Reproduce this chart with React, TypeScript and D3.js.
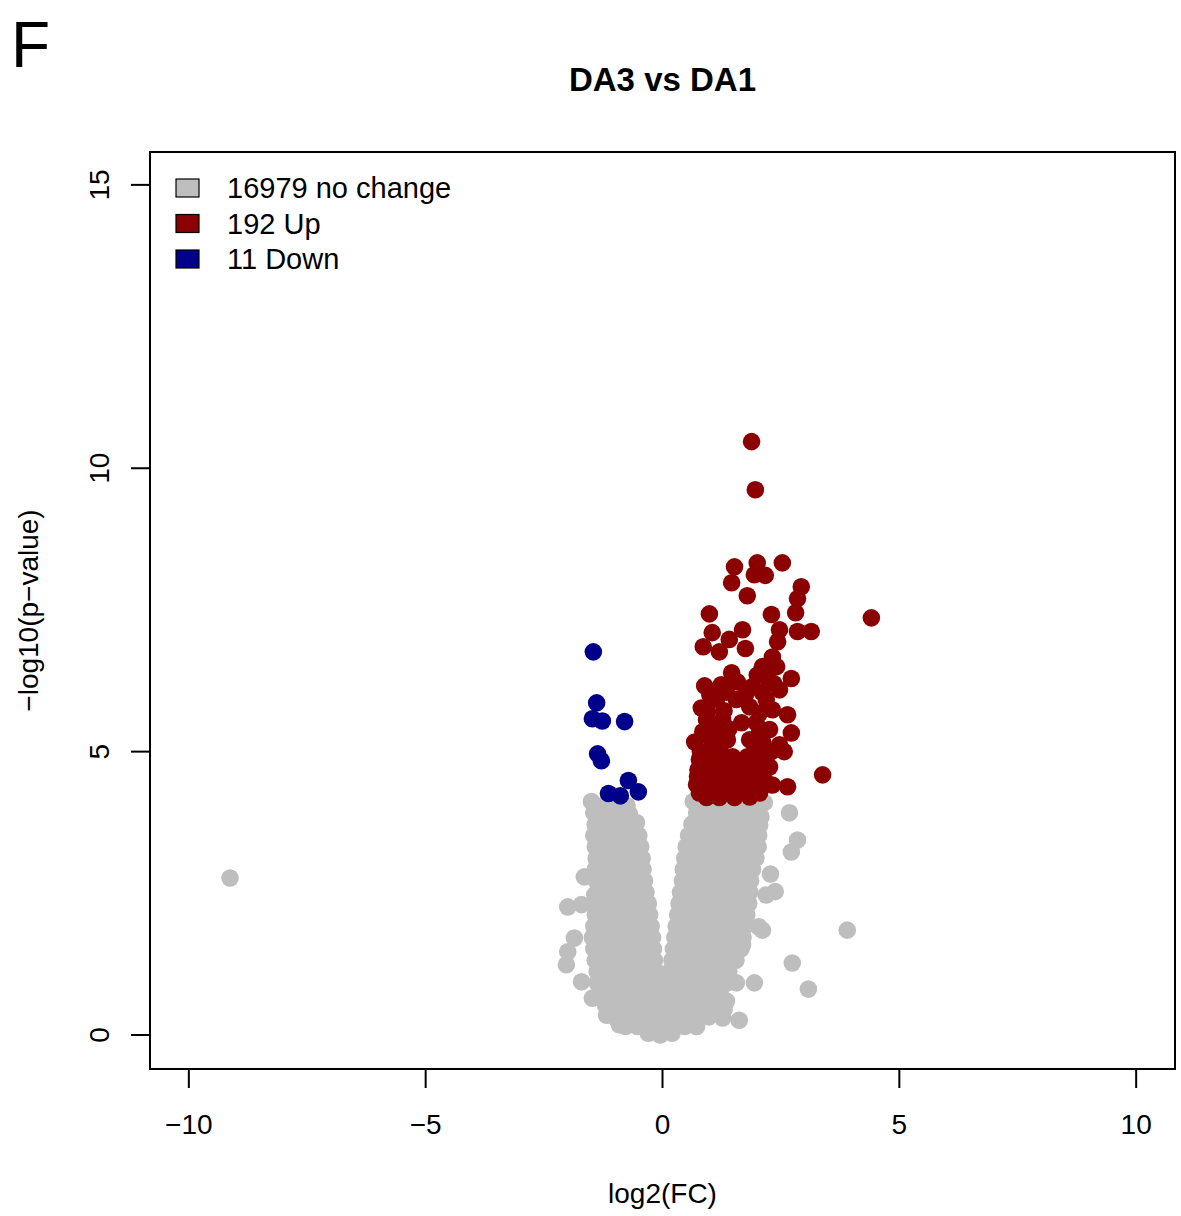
import React from 'react';
import { scaleLinear } from 'd3';

// labels
const panelLabel = 'F';
const title = 'DA3 vs DA1';
const xLabel = 'log2(FC)';
const yLabel = '\u2212log10(p\u2212value)';
const xTicks = [-10, -5, 0, 5, 10];
const yTicks = [0, 5, 10, 15];

const legendLabels = ['16979 no change', '192 Up', '11 Down'];
const legendColors = ['#BEBEBE', '#8B0000', '#00008B'];

// [log2FC, -log10(p)]
const noChange: [number, number][] = [
	[-1.5, 4.12], [-1.25, 4.05], [-1.0, 4.08], [-0.75, 4.05],
	[0.65, 4.12], [0.9, 4.12], [1.15, 4.12], [1.4, 4.12], [1.65, 4.12], [1.9, 4.12], [2.15, 4.1],
	[-1.45, 3.92], [-1.2, 3.92], [-0.95, 3.92], [-0.7, 3.9],
	[0.72, 3.92], [0.97, 3.92], [1.22, 3.92], [1.47, 3.92], [1.72, 3.92], [1.97, 3.92], [2.08, 3.85],
	[-1.42, 3.72], [-1.17, 3.72], [-0.92, 3.72], [-0.67, 3.72], [-0.55, 3.75],
	[0.62, 3.72], [0.87, 3.72], [1.12, 3.72], [1.37, 3.72], [1.62, 3.72], [1.87, 3.72], [2.05, 3.7],
	[-1.45, 3.52], [-1.2, 3.52], [-0.95, 3.52], [-0.7, 3.52], [-0.5, 3.52],
	[0.55, 3.52], [0.8, 3.52], [1.05, 3.52], [1.3, 3.52], [1.55, 3.52], [1.8, 3.52], [2.03, 3.52],
	[-1.42, 3.32], [-1.17, 3.32], [-0.92, 3.32], [-0.67, 3.32], [-0.46, 3.32],
	[0.5, 3.32], [0.75, 3.32], [1.0, 3.32], [1.25, 3.32], [1.5, 3.32], [1.75, 3.32], [2.02, 3.32],
	[-1.4, 3.12], [-1.15, 3.12], [-0.9, 3.12], [-0.65, 3.12], [-0.43, 3.12],
	[0.47, 3.12], [0.72, 3.12], [0.97, 3.12], [1.22, 3.12], [1.47, 3.12], [1.72, 3.12], [1.97, 3.12],
	[-1.42, 2.92], [-1.17, 2.92], [-0.92, 2.92], [-0.67, 2.92], [-0.41, 2.92],
	[0.44, 2.92], [0.68, 2.92], [0.92, 2.92], [1.16, 2.92], [1.4, 2.92], [1.64, 2.92], [1.9, 2.92],
	[-1.4, 2.72], [-1.15, 2.72], [-0.9, 2.72], [-0.65, 2.72], [-0.38, 2.72],
	[0.42, 2.72], [0.66, 2.72], [0.9, 2.72], [1.14, 2.72], [1.38, 2.72], [1.62, 2.72], [1.86, 2.72],
	[-1.38, 2.52], [-1.13, 2.52], [-0.88, 2.52], [-0.63, 2.52], [-0.35, 2.52],
	[0.38, 2.52], [0.62, 2.52], [0.86, 2.52], [1.1, 2.52], [1.34, 2.52], [1.58, 2.52], [1.84, 2.52],
	[-1.4, 2.32], [-1.15, 2.32], [-0.9, 2.32], [-0.65, 2.32], [-0.47, 2.35], [-0.3, 2.32],
	[0.35, 2.32], [0.6, 2.32], [0.85, 2.32], [1.1, 2.32], [1.35, 2.32], [1.6, 2.32], [1.82, 2.32],
	[-1.42, 2.12], [-1.17, 2.12], [-0.92, 2.12], [-0.67, 2.12], [-0.45, 2.12], [-0.27, 2.12],
	[0.32, 2.12], [0.56, 2.12], [0.8, 2.12], [1.04, 2.12], [1.28, 2.12], [1.52, 2.12], [1.78, 2.12],
	[-1.45, 1.92], [-1.2, 1.92], [-0.95, 1.92], [-0.7, 1.92], [-0.45, 1.92], [-0.24, 1.92],
	[0.29, 1.92], [0.53, 1.92], [0.77, 1.92], [1.01, 1.92], [1.25, 1.92], [1.5, 1.92], [1.74, 1.92],
	[-1.48, 1.72], [-1.23, 1.72], [-0.98, 1.72], [-0.73, 1.72], [-0.48, 1.72], [-0.21, 1.72],
	[0.26, 1.72], [0.5, 1.72], [0.74, 1.72], [0.98, 1.72], [1.22, 1.72], [1.46, 1.72], [1.7, 1.72],
	[-1.45, 1.52], [-1.2, 1.52], [-0.95, 1.52], [-0.7, 1.52], [-0.45, 1.52], [-0.19, 1.52],
	[0.23, 1.52], [0.47, 1.52], [0.71, 1.52], [0.95, 1.52], [1.2, 1.52], [1.45, 1.52], [1.66, 1.52],
	[-1.42, 1.32], [-1.17, 1.32], [-0.92, 1.32], [-0.67, 1.32], [-0.42, 1.32], [-0.17, 1.32],
	[0.2, 1.32], [0.44, 1.32], [0.68, 1.32], [0.92, 1.32], [1.16, 1.32], [1.4, 1.32], [1.55, 1.32],
	[-1.38, 1.12], [-1.13, 1.12], [-0.88, 1.12], [-0.63, 1.12], [-0.38, 1.12], [-0.14, 1.12],
	[0.16, 1.12], [0.4, 1.12], [0.65, 1.12], [0.9, 1.12], [1.15, 1.12], [1.4, 1.12],
	[-1.38, 0.92], [-1.13, 0.92], [-0.88, 0.92], [-0.63, 0.92], [-0.38, 0.92], [-0.13, 0.92],
	[0.12, 0.92], [0.37, 0.92], [0.62, 0.92], [0.87, 0.92], [1.12, 0.92], [1.37, 0.92],
	[-1.28, 0.72], [-1.03, 0.72], [-0.78, 0.72], [-0.53, 0.72], [-0.28, 0.72], [-0.03, 0.72],
	[0.22, 0.72], [0.47, 0.72], [0.72, 0.72], [0.97, 0.72], [1.22, 0.72], [1.35, 0.6],
	[-1.2, 0.52], [-0.95, 0.52], [-0.7, 0.52], [-0.45, 0.52], [-0.2, 0.52], [0.05, 0.52],
	[0.3, 0.52], [0.55, 0.52], [0.8, 0.52], [1.05, 0.52], [1.3, 0.45],
	[-1.02, 0.32], [-0.77, 0.32], [-0.52, 0.32], [-0.27, 0.32], [-0.02, 0.32],
	[0.23, 0.32], [0.48, 0.32], [0.73, 0.32], [0.98, 0.32],
	[-0.78, 0.15], [-0.53, 0.15], [-0.28, 0.15], [-0.03, 0.15], [0.22, 0.15], [0.47, 0.15], [0.72, 0.15],
	[-0.3, 0.03], [-0.05, 0.0], [0.2, 0.03],
	// scattered ones
	[-9.13, 2.77], [3.9, 1.85], [2.74, 1.27], [3.08, 0.81],
	[2.68, 3.92], [2.85, 3.44], [2.72, 3.23], [2.28, 2.84], [2.38, 2.53], [2.19, 2.47],
	[2.03, 1.91], [2.11, 1.85], [1.69, 1.59], [1.94, 0.92], [1.56, 0.92], [1.62, 0.26], [1.27, 0.3],
	[-1.65, 2.79], [-2.0, 2.26], [-1.71, 2.3], [-1.43, 2.47], [-1.22, 2.53], [-1.86, 1.71],
	[-2.0, 1.47], [-2.03, 1.24], [-1.71, 0.94], [-1.48, 0.65], [-1.18, 0.35], [-0.91, 0.18],
];

const upRegulated: [number, number][] = [
	[1.88, 10.47], [1.96, 9.62], [1.52, 8.26], [2.0, 8.33], [2.53, 8.33], [1.46, 7.98],
	[1.94, 8.12], [2.17, 8.11], [1.79, 7.75], [2.93, 7.91], [2.85, 7.7], [0.99, 7.43],
	[2.3, 7.42], [2.81, 7.45], [4.41, 7.36], [2.47, 7.15], [2.85, 7.12], [3.14, 7.12],
	[1.05, 7.1], [1.69, 7.15], [0.86, 6.85], [1.2, 6.76], [1.41, 6.98], [1.75, 6.82],
	[2.43, 6.94], [2.32, 6.67], [2.11, 6.5], [2.41, 6.5], [1.46, 6.39], [2.72, 6.29],
	[0.89, 6.16], [1.24, 6.18], [1.58, 6.23], [1.9, 6.15], [2.26, 6.22], [2.47, 6.09],
	[0.82, 5.77], [1.14, 5.92], [1.56, 5.92], [1.84, 5.79], [2.19, 5.92], [2.32, 5.74],
	[2.64, 5.65], [0.93, 5.56], [1.27, 5.56], [1.67, 5.51], [1.98, 5.51], [2.26, 5.39],
	[2.72, 5.33], [0.68, 5.17], [1.03, 5.21], [1.37, 5.21], [1.84, 5.21], [2.11, 5.17],
	[2.47, 5.12], [2.57, 5.0], [0.78, 4.86], [1.14, 4.86], [1.48, 4.91], [1.79, 4.91],
	[2.05, 4.91], [2.26, 4.73], [3.38, 4.59], [0.74, 4.56], [1.03, 4.56], [1.27, 4.63],
	[1.56, 4.63], [1.88, 4.63], [0.78, 4.27], [1.05, 4.27], [1.37, 4.33], [1.73, 4.33],
	[2.0, 4.38], [2.32, 4.41], [2.64, 4.38], [0.93, 4.19], [1.2, 4.19], [1.52, 4.19],
	[1.84, 4.2], [2.05, 4.27],
	[0.72, 4.42], [0.88, 4.42], [1.1, 4.45], [1.3, 4.45], [1.5, 4.45], [1.7, 4.48], [1.9, 4.45], [2.15, 4.5],
	[0.75, 4.68], [0.92, 4.7], [1.15, 4.7], [1.4, 4.72], [1.65, 4.75], [2.0, 4.72],
	[0.8, 5.0], [0.98, 5.02], [1.22, 5.02], [1.95, 5.08], [2.3, 5.0],
	[0.85, 5.35], [1.1, 5.38], [1.4, 5.4], [2.05, 5.35],
	[0.95, 5.7], [1.3, 5.72], [2.05, 5.68],
	[1.0, 6.0], [1.35, 6.05], [1.75, 6.0], [2.1, 6.05],
	[2.2, 6.4], [2.35, 6.2], [2.0, 6.35],
];

const downRegulated: [number, number][] = [
	[-1.46, 6.76], [-1.39, 5.86], [-1.48, 5.58], [-1.27, 5.54], [-0.8, 5.53], [-1.37, 4.96],
	[-1.29, 4.84], [-0.72, 4.49], [-1.14, 4.26], [-0.89, 4.22], [-0.51, 4.29],
];

const fontFamily = '"Liberation Sans", Arial, Helvetica, sans-serif';
const box = { left: 150, right: 1175, top: 152, bottom: 1069 };

const fmt = (d: number) => (d < 0 ? '\u2212' + Math.abs(d) : String(d));

const Points = ({ data, color, x, y }) => (
	<g>
		{data.map((d, i) => (
			<circle key={i} cx={x(d[0])} cy={y(d[1])} r={8.8} fill={color} />
		))}
	</g>
);

const App = () => {
	const x = scaleLinear().domain([-10.82, 10.82]).range([box.left, box.right]);
	const y = scaleLinear().domain([-0.6, 15.58]).range([box.bottom, box.top]);

	return (
		<svg
			width={1181}
			height={1216}
			style={{ position: 'absolute', left: 0, top: 0, background: '#fff' }}
			fontFamily={fontFamily}
		>
			<text x={11} y={67} fontSize={64}>
				{panelLabel}
			</text>
			<text x={(box.left + box.right) / 2} y={91} fontSize={33} fontWeight="bold" textAnchor="middle">
				{title}
			</text>

			<Points data={noChange} color={legendColors[0]} x={x} y={y} />
			<Points data={upRegulated} color={legendColors[1]} x={x} y={y} />
			<Points data={downRegulated} color={legendColors[2]} x={x} y={y} />

			<rect
				x={box.left}
				y={box.top}
				width={box.right - box.left}
				height={box.bottom - box.top}
				fill="none"
				stroke="#000"
				strokeWidth={2}
			/>

			{/* x axis */}
			<g>
				{xTicks.map((t) => (
					<g key={t} transform={'translate(' + x(t) + ',' + box.bottom + ')'}>
						<line y1={0} y2={19} stroke="#000" strokeWidth={2} />
						<text y={65} fontSize={28} textAnchor="middle">
							{fmt(t)}
						</text>
					</g>
				))}
				<text x={(box.left + box.right) / 2} y={1203} fontSize={28} textAnchor="middle">
					{xLabel}
				</text>
			</g>

			{/* y axis */}
			<g>
				{yTicks.map((t) => (
					<g key={t} transform={'translate(' + box.left + ',' + y(t) + ')'}>
						<line x1={0} x2={-19} stroke="#000" strokeWidth={2} />
						<text transform="translate(-41,0) rotate(-90)" fontSize={28} textAnchor="middle">
							{fmt(t)}
						</text>
					</g>
				))}
				<text
					transform={'translate(38,' + (box.top + box.bottom) / 2 + ') rotate(-90)'}
					fontSize={28}
					textAnchor="middle"
				>
					{yLabel}
				</text>
			</g>

			{/* legend */}
			<g>
				{legendLabels.map((label, i) => (
					<g key={label} transform={'translate(176,' + (188 + i * 35.5) + ')'}>
						<rect x={0} y={-9} width={23} height={18} fill={legendColors[i]} stroke="#000" strokeWidth={1.2} />
						<text x={51} y={10} fontSize={29}>
							{label}
						</text>
					</g>
				))}
			</g>
		</svg>
	);
};

export default App;
